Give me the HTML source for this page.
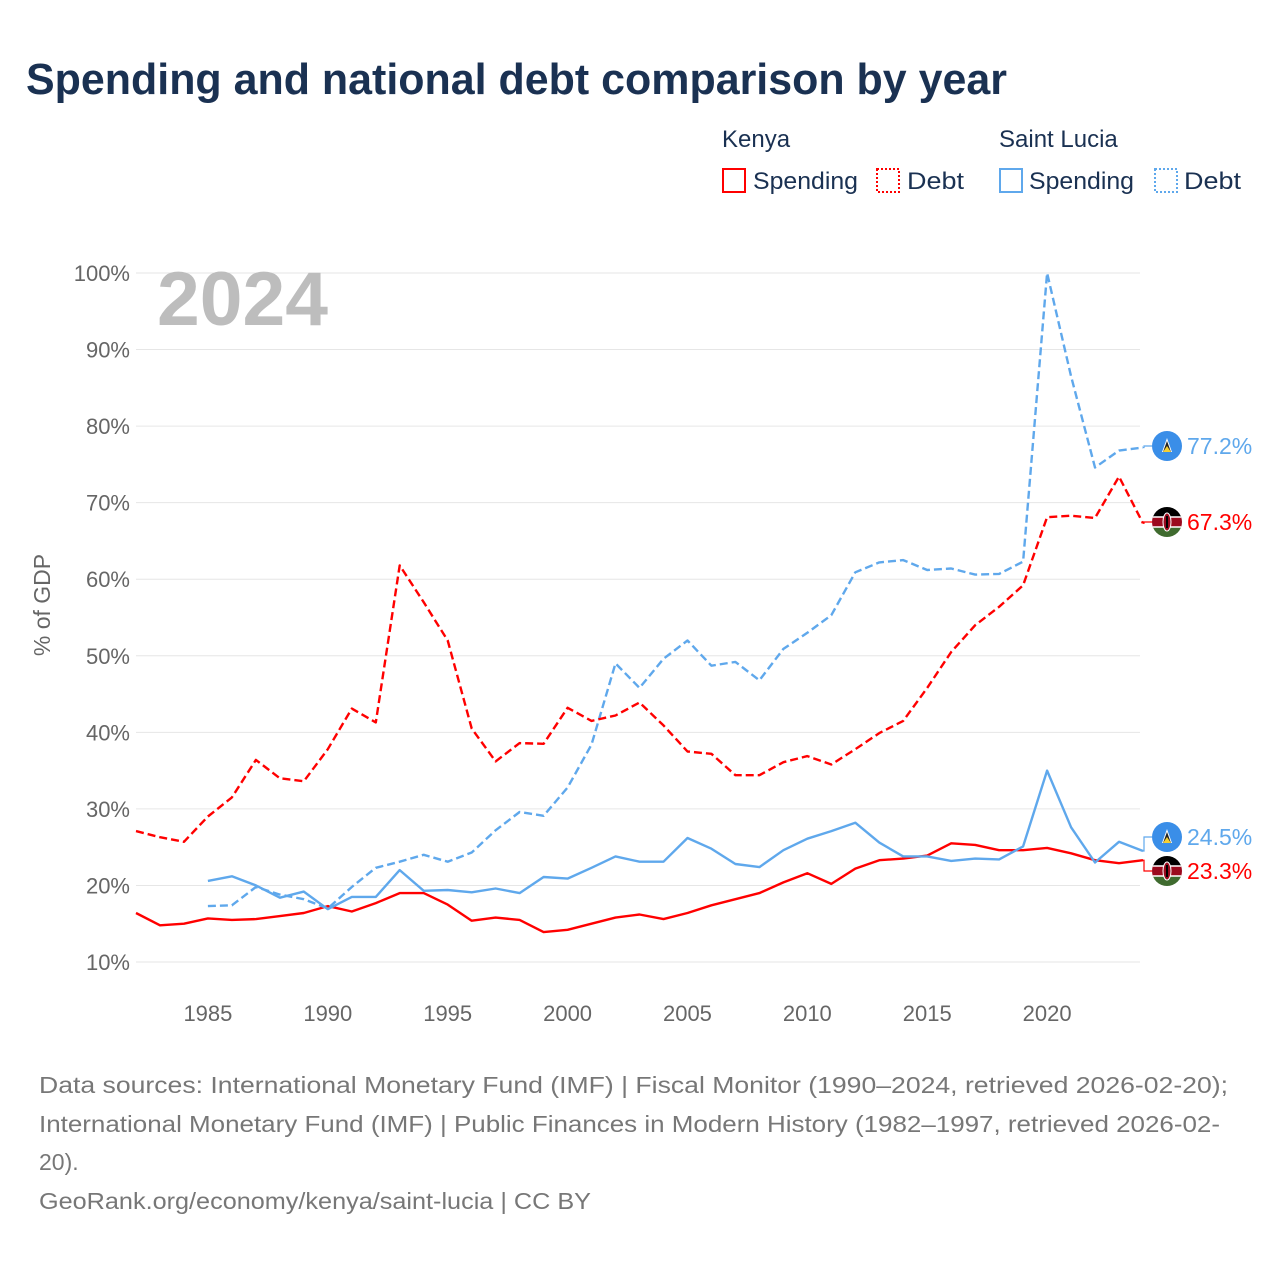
<!DOCTYPE html>
<html><head><meta charset="utf-8"><style>
html,body{margin:0;padding:0;background:#fff;}
svg{display:block;font-family:"Liberation Sans",sans-serif;}
</style></head><body>
<svg id="chart" width="1280" height="1280" viewBox="0 0 1280 1280">
<text x="26" y="94" font-size="44" font-weight="bold" fill="#1a3152" textLength="981" lengthAdjust="spacingAndGlyphs">Spending and national debt comparison by year</text>
<g>
<text x="722" y="147" font-size="24" fill="#1a3152">Kenya</text>
<text x="999" y="147" font-size="24" fill="#1a3152">Saint Lucia</text>
<g><rect x="723" y="169" width="22" height="23" fill="none" stroke="#f00" stroke-width="2"/><text x="753" y="189" font-size="24" fill="#1a3152" textLength="105" lengthAdjust="spacingAndGlyphs">Spending</text></g>
<g><rect x="877" y="169" width="22" height="23" fill="none" stroke="#f00" stroke-width="2" stroke-dasharray="2,2"/><text x="907" y="189" font-size="24" fill="#1a3152" textLength="57" lengthAdjust="spacingAndGlyphs">Debt</text></g>
<g><rect x="1000" y="169" width="22" height="23" fill="none" stroke="#5fa8ec" stroke-width="2"/><text x="1029" y="189" font-size="24" fill="#1a3152" textLength="105" lengthAdjust="spacingAndGlyphs">Spending</text></g>
<g><rect x="1155" y="169" width="22" height="23" fill="none" stroke="#5fa8ec" stroke-width="2" stroke-dasharray="2,2"/><text x="1184" y="189" font-size="24" fill="#1a3152" textLength="57" lengthAdjust="spacingAndGlyphs">Debt</text></g>
</g>
<g id="grid"></g>
<text x="157" y="325" font-size="76" font-weight="bold" fill="#bdbdbd" textLength="171" lengthAdjust="spacingAndGlyphs">2024</text>
<text transform="translate(50,605) rotate(-90)" text-anchor="middle" font-size="23" fill="#666">% of GDP</text>
<g id="series"></g>
<g id="endlabels"></g>
<g font-size="23" fill="#777">
<text x="39" y="1093" textLength="1189" lengthAdjust="spacingAndGlyphs">Data sources: International Monetary Fund (IMF) | Fiscal Monitor (1990–2024, retrieved 2026-02-20);</text>
<text x="39" y="1132" textLength="1181" lengthAdjust="spacingAndGlyphs">International Monetary Fund (IMF) | Public Finances in Modern History (1982–1997, retrieved 2026-02-</text>
<text x="39" y="1170">20).</text>
<text x="39" y="1209" textLength="552" lengthAdjust="spacingAndGlyphs">GeoRank.org/economy/kenya/saint-lucia | CC BY</text>
</g>
</svg>
<script>
const kenyaYears = [1982,1983,1984,1985,1986,1987,1988,1989,1990,1991,1992,1993,1994,1995,1996,1997,1998,1999,2000,2001,2002,2003,2004,2005,2006,2007,2008,2009,2010,2011,2012,2013,2014,2015,2016,2017,2018,2019,2020,2021,2022,2023,2024];
const kenyaDebt = [27.1,26.3,25.7,29.0,31.5,36.4,34.0,33.6,37.8,43.1,41.3,61.8,57.0,52.0,40.5,36.2,38.6,38.5,43.2,41.5,42.2,43.9,40.9,37.5,37.2,34.4,34.4,36.1,36.9,35.8,37.8,39.9,41.5,45.8,50.5,54.0,56.4,59.2,68.1,68.3,68.0,73.4,67.3];
const kenyaSpending = [16.4,14.8,15.0,15.7,15.5,15.6,16.0,16.4,17.3,16.6,17.7,19.0,19.0,17.5,15.4,15.8,15.5,13.9,14.2,15.0,15.8,16.2,15.6,16.4,17.4,18.2,19.0,20.4,21.6,20.2,22.2,23.3,23.5,23.9,25.5,25.3,24.6,24.6,24.9,24.2,23.3,22.9,23.3];
const stluciaYears = [1985,1986,1987,1988,1989,1990,1991,1992,1993,1994,1995,1996,1997,1998,1999,2000,2001,2002,2003,2004,2005,2006,2007,2008,2009,2010,2011,2012,2013,2014,2015,2016,2017,2018,2019,2020,2021,2022,2023,2024];
const stluciaSpending = [20.6,21.2,20.0,18.4,19.2,16.9,18.5,18.5,22.0,19.3,19.4,19.1,19.6,19.0,21.1,20.9,22.3,23.8,23.1,23.1,26.2,24.8,22.8,22.4,24.6,26.1,27.1,28.2,25.6,23.8,23.8,23.2,23.5,23.4,25.1,35.0,27.6,23.0,25.7,24.5];
const stluciaDebt = [17.3,17.4,19.8,18.8,18.2,17.0,19.8,22.3,23.1,24.0,23.1,24.3,27.2,29.6,29.1,32.8,38.4,49.0,45.8,49.6,52.0,48.7,49.2,46.8,50.9,53.0,55.3,60.9,62.2,62.5,61.2,61.4,60.6,60.7,62.3,100.0,86.5,74.6,76.8,77.2];
const yTicks = [10,20,30,40,50,60,70,80,90,100];
const xTicks = [1985,1990,1995,2000,2005,2010,2015,2020];

const NS = "http://www.w3.org/2000/svg";
const X0 = 136, X1 = 1143, Y10 = 962, Y100 = 273;
function xs(y){ return X0 + (y - 1982) * (X1 - X0) / (2024 - 1982); }
function ys(v){ return Y10 - (v - 10) * (Y10 - Y100) / 90; }
function mk(tag, attrs, parent){ const e = document.createElementNS(NS, tag); for (const k in attrs) e.setAttribute(k, attrs[k]); parent.appendChild(e); return e; }

const grid = document.getElementById('grid');
yTicks.forEach(t => {
  const l = mk('line', {x1:X0, x2:1140, y1:ys(t), y2:ys(t), stroke:'#e6e6e6', 'stroke-width':1}, grid);
  
  
  const tx = mk('text', {x:130, y:ys(t)+8, 'text-anchor':'end', 'font-size':22, fill:'#666'}, grid);
  tx.textContent = t + '%';
  
  
});
xTicks.forEach(t => {
  const tx = mk('text', {x:xs(t), y:1021, 'text-anchor':'middle', 'font-size':22, fill:'#666'}, grid);
  tx.textContent = t;
  
  
});

const series = document.getElementById('series');
function drawLine(years, vals, color, dashed, name){
  const d = years.map((yr,i) => (i ? 'L' : 'M') + xs(yr).toFixed(1) + ',' + ys(vals[i]).toFixed(1)).join(' ');
  const p = mk('path', {d:d, fill:'none', stroke:color, 'stroke-width':2.4, 'stroke-linejoin':'round'}, series);
  if (dashed) p.setAttribute('stroke-dasharray', '8,4');
  
  
}
drawLine(kenyaYears, kenyaSpending, '#f00', false, 'kenya-spending-line');
drawLine(stluciaYears, stluciaSpending, '#5fa8ec', false, 'saint-lucia-spending-line');
drawLine(stluciaYears, stluciaDebt, '#5fa8ec', true, 'saint-lucia-debt-line');
drawLine(kenyaYears, kenyaDebt, '#f00', true, 'kenya-debt-line');

const el = document.getElementById('endlabels');
function flag(cx, cy, country, g){
  if (country === 'lc') {
    mk('circle', {cx:cx, cy:cy, r:15, fill:'#3a8ee8'}, g);
    mk('polygon', {points:`${cx},${cy-8} ${cx+5},${cy+6} ${cx-5},${cy+6}`, fill:'#fff'}, g);
    mk('polygon', {points:`${cx},${cy-5} ${cx+4},${cy+6} ${cx-4},${cy+6}`, fill:'#222'}, g);
    mk('polygon', {points:`${cx},${cy} ${cx+4},${cy+6} ${cx-4},${cy+6}`, fill:'#f5d033'}, g);
  } else {
    const id = 'clip' + Math.round(cy);
    const cp = mk('clipPath', {id:id}, g); mk('circle', {cx:cx, cy:cy, r:15}, cp);
    const gg = mk('g', {'clip-path':'url(#' + id + ')'}, g);
    mk('rect', {x:cx-15, y:cy-15, width:30, height:10, fill:'#000'}, gg);
    mk('rect', {x:cx-15, y:cy-5, width:30, height:10, fill:'#9b0a1e'}, gg);
    mk('rect', {x:cx-15, y:cy+5, width:30, height:10, fill:'#3f6b2f'}, gg);
    mk('line', {x1:cx-15, x2:cx+15, y1:cy-5, y2:cy-5, stroke:'#fff', 'stroke-width':1.5}, gg);
    mk('line', {x1:cx-15, x2:cx+15, y1:cy+5, y2:cy+5, stroke:'#fff', 'stroke-width':1.5}, gg);
    mk('ellipse', {cx:cx, cy:cy, rx:4, ry:9, fill:'#9b0a1e', stroke:'#fff', 'stroke-width':1}, gg);
    mk('rect', {x:cx-1, y:cy-6, width:2, height:12, fill:'#000'}, gg);
  }
}
const endLabels = [
  {v: stluciaDebt[stluciaDebt.length-1], ly:446, color:'#5fa8ec', c:'lc', name:'saint-lucia-debt-end-label'},
  {v: kenyaDebt[kenyaDebt.length-1], ly:522, color:'#f00', c:'ke', name:'kenya-debt-end-label'},
  {v: stluciaSpending[stluciaSpending.length-1], ly:837, color:'#5fa8ec', c:'lc', name:'saint-lucia-spending-end-label'},
  {v: kenyaSpending[kenyaSpending.length-1], ly:871, color:'#f00', c:'ke', name:'kenya-spending-end-label'}
];
endLabels.forEach(o => {
  const g = mk('g', {}, el);
  
  
  const y0 = ys(o.v);
  mk('path', {d:`M${X1},${y0} L${X1+1},${y0} L${X1+1},${o.ly} L1152,${o.ly}`, fill:'none', stroke:o.color, 'stroke-width':1.2}, g);
  flag(1167, o.ly, o.c, g);
  const t = mk('text', {x:1187, y:o.ly+8, 'font-size':23, fill:o.color}, g);
  t.textContent = o.v.toFixed(1) + '%';
});
</script>
</body></html>
